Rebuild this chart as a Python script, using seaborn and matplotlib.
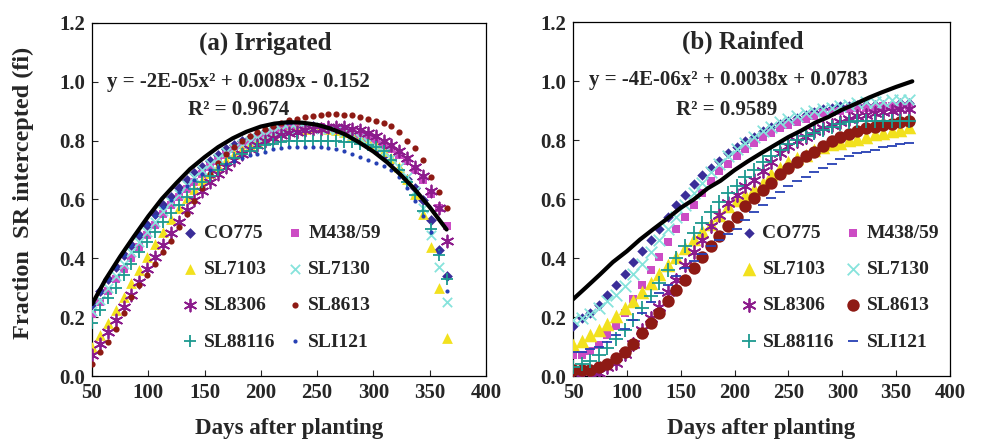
import numpy as np
import pandas as pd
import matplotlib
matplotlib.use("Agg")
import matplotlib.pyplot as plt
from matplotlib.ticker import FormatStrFormatter
import seaborn as sns

sns.set_style("ticks")
plt.rcParams["font.family"] = ["Liberation Serif", "DejaVu Serif"]
plt.rcParams["font.weight"] = "bold"
plt.rcParams["axes.labelweight"] = "bold"

cultivars = ["CO775", "M438/59", "SL7103", "SL7130", "SL8306", "SL8613", "SL88116", "SLI121"]

# ---------------- (a) Irrigated: days after planting (7-day sampling) ----------------
days_irr = list(range(50, 366, 7))
irr_CO775 = [.245, .29, .33, .37, .41, .445, .48, .515, .55, .58, .61, .64, .665, .69, .71, .73,
             .75, .77, .785, .80, .81, .82, .83, .84, .845, .85, .85, .85, .85, .845, .84, .835,
             .825, .815, .80, .785, .77, .75, .73, .70, .67, .64, .60, .53, .43, .34]
irr_M438 = [.21, .25, .29, .33, .365, .40, .44, .48, .515, .55, .58, .61, .635, .66, .685, .71,
            .73, .75, .77, .785, .80, .81, .82, .83, .835, .84, .845, .845, .845, .845, .84, .84,
            .835, .83, .82, .81, .80, .785, .77, .75, .73, .70, .665, .62, .57, .51]
irr_SL7103 = [.10, .14, .18, .225, .27, .315, .36, .405, .45, .49, .535, .57, .605, .635, .665, .69,
              .715, .735, .755, .77, .785, .80, .81, .82, .83, .835, .84, .84, .845, .845, .84, .835,
              .83, .82, .81, .80, .785, .765, .74, .71, .67, .62, .55, .44, .30, .13]
irr_SL7130 = [.22, .26, .30, .34, .38, .42, .455, .49, .525, .56, .59, .62, .65, .675, .70, .72,
              .74, .76, .775, .79, .80, .81, .82, .83, .835, .84, .84, .845, .845, .84, .84, .835,
              .83, .82, .81, .795, .78, .76, .74, .71, .675, .63, .57, .48, .37, .25]
irr_SL8306 = [.07, .11, .15, .19, .235, .275, .32, .365, .405, .445, .485, .525, .565, .60, .63, .66,
              .685, .71, .735, .755, .77, .785, .80, .81, .82, .825, .83, .835, .84, .84, .845, .845,
              .845, .84, .835, .825, .815, .80, .785, .765, .74, .71, .68, .63, .57, .46]
irr_SL8613 = [.04, .08, .115, .16, .215, .27, .31, .345, .38, .42, .46, .505, .55, .595, .64, .685,
              .725, .755, .78, .80, .815, .83, .84, .85, .86, .87, .875, .88, .885, .887, .89, .89,
              .888, .888, .882, .875, .868, .86, .85, .83, .80, .775, .735, .675, .625, .57]
irr_SL88116 = [.18, .225, .265, .30, .345, .38, .42, .455, .49, .525, .555, .58, .61, .635, .66, .68,
               .70, .72, .74, .755, .765, .775, .785, .79, .795, .80, .80, .80, .80, .80, .80, .80,
               .795, .795, .79, .785, .78, .765, .735, .70, .66, .615, .56, .50, .41, .33]
irr_SLI121 = [.24, .285, .33, .37, .41, .445, .48, .515, .545, .575, .60, .625, .645, .665, .685, .70,
              .71, .72, .73, .74, .75, .755, .76, .77, .775, .78, .78, .78, .78, .78, .775, .77,
              .765, .755, .745, .735, .725, .715, .70, .675, .64, .595, .545, .49, .42, .29]
fit_days_irr = [50, 62, 75, 87, 100, 112, 125, 137, 150, 162, 175, 187, 200, 212, 225, 237, 250,
                262, 275, 287, 300, 312, 325, 337, 350, 365]
fit_irr = [.244, .328, .406, .473, .543, .602, .656, .703, .744, .778, .808, .830, .848, .858, .863,
           .861, .854, .841, .821, .795, .763, .727, .681, .633, .574, .498]

# ---------------- (b) Rainfed: days after planting (8-day sampling) ----------------
days_rf = list(range(50, 363, 8))
rf_CO775 = [.17, .195, .215, .24, .275, .31, .345, .385, .425, .46, .50, .54, .58, .615, .65, .68,
            .705, .73, .755, .775, .795, .81, .83, .845, .855, .865, .875, .885, .895, .905, .91, .915,
            .915, .92, .92, .92, .92, .92, .925, .925]
rf_M438 = [.07, .07, .085, .105, .14, .17, .215, .26, .31, .36, .405, .455, .50, .54, .58, .62,
           .66, .695, .72, .745, .77, .79, .81, .825, .84, .85, .86, .87, .88, .89, .895, .90,
           .905, .91, .91, .91, .915, .915, .915, .915]
rf_SL7103 = [.105, .12, .14, .155, .175, .205, .23, .255, .285, .315, .345, .375, .405, .435, .465, .49,
             .515, .545, .575, .595, .615, .635, .655, .685, .705, .725, .74, .75, .765, .775, .785, .79,
             .80, .805, .81, .82, .825, .83, .835, .845]
rf_SL7130 = [.19, .195, .21, .23, .255, .275, .305, .345, .38, .42, .46, .50, .54, .58, .62, .655,
             .69, .72, .745, .77, .79, .81, .83, .845, .86, .87, .88, .89, .90, .905, .91, .915,
             .92, .925, .93, .93, .93, .935, .935, .935]
rf_SL8306 = [.01, .0, .0, .01, .03, .045, .075, .11, .155, .195, .235, .285, .325, .375, .42, .46,
             .51, .545, .585, .615, .645, .665, .695, .725, .755, .78, .795, .81, .83, .84, .85, .86,
             .87, .88, .885, .89, .895, .90, .905, .905]
rf_SL8613 = [.02, .02, .02, .03, .04, .06, .08, .11, .145, .18, .215, .255, .29, .325, .365, .405,
             .44, .475, .51, .54, .575, .605, .63, .655, .685, .705, .725, .745, .76, .78, .795, .81,
             .82, .83, .84, .845, .85, .855, .86, .865]
rf_SL88116 = [.03, .04, .05, .07, .095, .125, .155, .19, .23, .27, .315, .36, .40, .44, .485, .52,
              .555, .59, .62, .645, .675, .70, .725, .745, .765, .785, .80, .815, .825, .835, .845, .855,
              .86, .865, .865, .865, .865, .865, .865, .865]
rf_SLI121 = [.08, .08, .09, .10, .115, .14, .16, .19, .215, .25, .28, .31, .34, .365, .39, .415,
             .44, .46, .48, .50, .53, .555, .58, .605, .625, .645, .66, .675, .69, .705, .72, .735,
             .745, .755, .76, .765, .775, .78, .785, .79]
fit_days_rf = [50, 62, 75, 87, 100, 112, 125, 137, 150, 162, 175, 187, 200, 212, 225, 237, 250,
               262, 275, 287, 300, 312, 325, 337, 350, 365]
fit_rf = [.26, .30, .344, .386, .423, .462, .499, .532, .57, .598, .636, .662, .698, .727, .756,
          .782, .81, .832, .859, .878, .903, .922, .944, .962, .98, .999]

irr_series = [irr_CO775, irr_M438, irr_SL7103, irr_SL7130, irr_SL8306, irr_SL8613, irr_SL88116, irr_SLI121]
rf_series = [rf_CO775, rf_M438, rf_SL7103, rf_SL7130, rf_SL8306, rf_SL8613, rf_SL88116, rf_SLI121]

df_irr = pd.DataFrame({"Days": np.tile(days_irr, 8),
                       "fi": np.concatenate(irr_series),
                       "Cultivar": np.repeat(cultivars, len(days_irr))})
df_rf = pd.DataFrame({"Days": np.tile(days_rf, 8),
                      "fi": np.concatenate(rf_series),
                      "Cultivar": np.repeat(cultivars, len(days_rf))})

colors = {"CO775": "#3a2d98", "M438/59": "#cc4cc4", "SL7103": "#f2e11e", "SL7130": "#86e3dc",
          "SL8306": "#8c1c8c", "SL8613": "#8e1a14", "SL88116": "#1c9a90", "SLI121": "#2640b4"}
star = (6, 2, 0)
mk_irr = {"CO775": ("D", 30), "M438/59": ("s", 26), "SL7103": ("^", 60), "SL7130": ("x", 45),
          "SL8306": (star, 75), "SL8613": ("o", 20), "SL88116": ("+", 70), "SLI121": ("o", 9)}
mk_rf = {"CO775": ("D", 28), "M438/59": ("s", 28), "SL7103": ("^", 95), "SL7130": ("x", 70),
         "SL8306": (star, 85), "SL8613": ("o", 80), "SL88116": ("+", 95), "SLI121": ("_", 45)}

fig = plt.figure(figsize=(9.82, 4.4), dpi=100)
ax1 = fig.add_axes([92 / 982, 64 / 440, 394 / 982, 353 / 440])
ax2 = fig.add_axes([573 / 982, 64 / 440, 377 / 982, 354 / 440])

def draw(ax, df, mk, fit_d, fit_v, title, eq, r2, tpos, eqpos, rpos, legpos):
    for c in cultivars:
        m, s = mk[c]
        sub = df[df["Cultivar"] == c]
        lw = 1.3 if m in ("x", "+", star, "_") else 0
        sns.scatterplot(data=sub, x="Days", y="fi", ax=ax, marker=m, s=s, color=colors[c],
                        linewidth=lw, edgecolor=colors[c] if lw == 0 else None, label=c, zorder=3)
    sns.lineplot(x=fit_d, y=fit_v, ax=ax, color="black", linewidth=3, zorder=5)
    ax.set_xlim(50, 400)
    ax.set_ylim(0, 1.2)
    ax.set_xticks(range(50, 401, 50))
    ax.set_yticks(np.arange(0, 1.21, 0.2))
    ax.yaxis.set_major_formatter(FormatStrFormatter("%.1f"))
    ax.tick_params(direction="in", length=4, width=0.8, labelsize=15, pad=5)
    for lab in ax.get_xticklabels() + ax.get_yticklabels():
        lab.set_fontweight("bold")
    for sp in ax.spines.values():
        sp.set_linewidth(0.9)
        sp.set_color("black")
    ax.set_xlabel("Days after planting", fontsize=16.5, fontweight="bold", labelpad=11)
    ax.set_ylabel("")
    ax.text(tpos[0], tpos[1], title, transform=ax.transAxes, ha="center", va="center",
            fontsize=18, fontweight="bold")
    ax.text(eqpos[0], eqpos[1], eq, transform=ax.transAxes, ha="center", va="center",
            fontsize=15, fontweight="bold")
    ax.text(rpos[0], rpos[1], r2, transform=ax.transAxes, ha="center", va="center",
            fontsize=15, fontweight="bold")
    h, l = ax.get_legend_handles_labels()
    hl = dict(zip(l, h))
    order = ["CO775", "SL7103", "SL8306", "SL88116", "M438/59", "SL7130", "SL8613", "SLI121"]
    ax.legend([hl[o] for o in order], order, ncol=2, frameon=False, loc="lower left",
              bbox_to_anchor=legpos, prop={"size": 14, "weight": "bold"},
              handletextpad=0.2, columnspacing=0.5, labelspacing=0.95, handlelength=1.0,
              borderaxespad=0)

draw(ax1, df_irr, mk_irr, fit_days_irr, fit_irr, "(a) Irrigated",
     "y = -2E-05x² + 0.0089x - 0.152", "R² = 0.9674",
     (0.44, 0.943), (0.372, 0.833), (0.373, 0.754), (0.205, 0.05))
draw(ax2, df_rf, mk_rf, fit_days_rf, fit_rf, "(b) Rainfed",
     "y = -4E-06x² + 0.0038x + 0.0783", "R² = 0.9589",
     (0.451, 0.943), (0.411, 0.836), (0.408, 0.751), (0.42, 0.05))

ax1.set_ylabel("Fraction  SR intercepted (fi)", fontsize=17.5, fontweight="bold")
ax1.yaxis.set_label_coords(-0.148, 0.52)

fig.savefig("out.png", dpi=100)
